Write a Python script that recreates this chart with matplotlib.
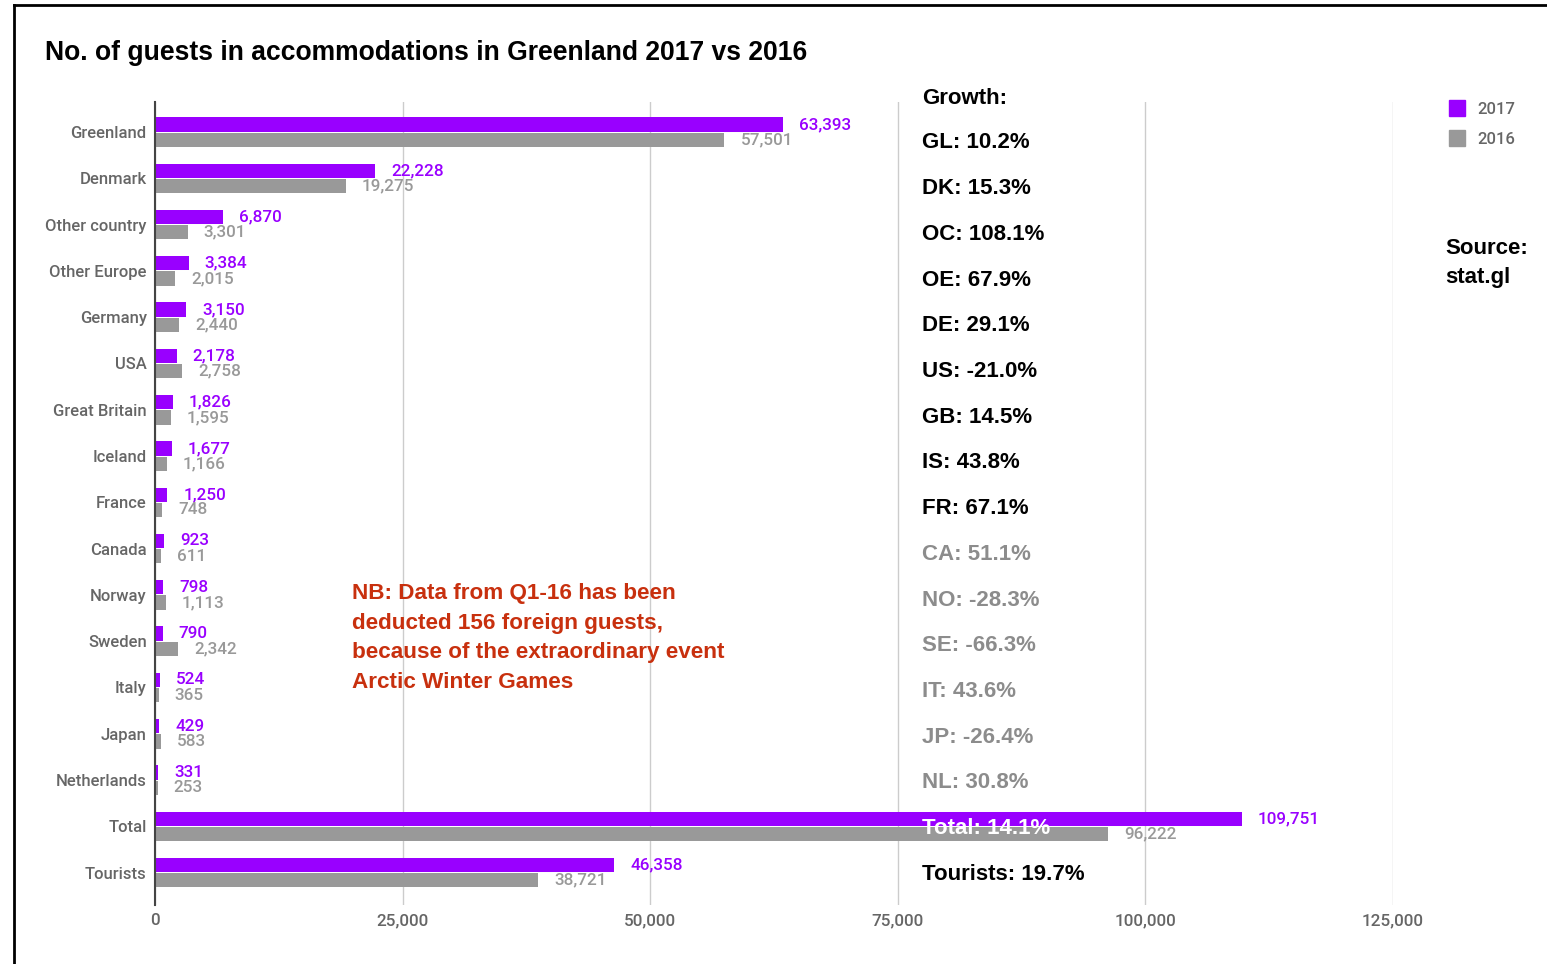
import matplotlib.pyplot as plt
from matplotlib.lines import Line2D

countries = ["Greenland", "Denmark", "Other country", "Other Europe", "Germany", "USA",
             "Great Britain", "Iceland", "France", "Canada", "Norway", "Sweden", "Italy",
             "Japan", "Netherlands", "Total", "Tourists"]
guests_2017 = [63393, 22228, 6870, 3384, 3150, 2178, 1826, 1677, 1250, 923, 798, 790,
               524, 429, 331, 109751, 46358]
guests_2016 = [57501, 19275, 3301, 2015, 2440, 2758, 1595, 1166, 748, 611, 1113, 2342,
               365, 583, 253, 96222, 38721]
growth = ["GL: 10.2%", "DK: 15.3%", "OC: 108.1%", "OE: 67.9%", "DE: 29.1%", "US: -21.0%",
          "GB: 14.5%", "IS: 43.8%", "FR: 67.1%", "CA: 51.1%", "NO: -28.3%", "SE: -66.3%",
          "IT: 43.6%", "JP: -26.4%", "NL: 30.8%", "Total: 14.1%", "Tourists: 19.7%"]
growth_colors = ["#000000"] * 9 + ["#8c8c8c"] * 6 + ["#ffffff", "#000000"]
xticks = [0, 25000, 50000, 75000, 100000, 125000]

PURPLE = "#9900ff"
GREY = "#999999"
W, H = 1547, 964

fig = plt.figure(figsize=(W / 100, H / 100), dpi=100)
ax = fig.add_axes([155 / W, 1 - 905 / H, (1393 - 155) / W, (905 - 102) / H])

y = list(range(len(countries)))
off = 0.165
bh = 0.31
ax.barh([i - off for i in y], guests_2017, height=bh, color=PURPLE, zorder=3)
ax.barh([i + off for i in y], guests_2016, height=bh, color=GREY, zorder=3)

lbl = dict(family="Roboto", fontweight="medium", fontsize=12.3)
for i, (a, b) in enumerate(zip(guests_2017, guests_2016)):
    ax.annotate(f"{a:,}", (a, i - off), xytext=(11.5, 0), textcoords="offset points",
                va="center", ha="left", color=PURPLE, zorder=4, **lbl)
    ax.annotate(f"{b:,}", (b, i + off), xytext=(11.5, 0), textcoords="offset points",
                va="center", ha="left", color=GREY, zorder=4, **lbl)

ax.set_xlim(0, 125000)
ax.set_ylim(len(countries) - 0.3, -0.65)
ax.set_yticks(y)
ax.set_yticklabels(countries, color="#666666", family="Roboto", fontweight="medium", fontsize=12)
ax.set_xticks(xticks)
ax.set_xticklabels([f"{t:,}" for t in xticks], color="#666666", **lbl)
ax.tick_params(length=0, pad=6)
ax.tick_params(axis="x", pad=6)
ax.grid(axis="x", color="#cccccc", linewidth=1, zorder=0)
for s in ["top", "right", "bottom"]:
    ax.spines[s].set_visible(False)
ax.spines["left"].set_color("#444444")
ax.spines["left"].set_linewidth(1.5)
ax.spines["left"].set_zorder(5)

# growth column
gx = 922 / W
bold = dict(family="Liberation Sans", fontweight="bold", fontsize=16)
fig.text(gx, 1 - 98 / H, "Growth:", va="center", ha="left", **bold)
for i, (txt, c) in enumerate(zip(growth, growth_colors)):
    fig.text(gx, 1 - (143 + i * 45.7) / H, txt, color=c, va="center", ha="left",
             zorder=6, **bold)

fig.text(45 / W, 1 - 53 / H, "No. of guests in accommodations in Greenland 2017 vs 2016",
         family="Liberation Sans", fontweight="bold", fontsize=19.1, va="center", ha="left")

note = ("NB: Data from Q1-16 has been\ndeducted 156 foreign guests,\n"
        "because of the extraordinary event\nArctic Winter Games")
fig.text(352 / W, 1 - 638 / H, note, family="Liberation Sans", fontweight="bold",
         fontsize=16.2, color="#c8300e", va="center", ha="left", linespacing=1.54)

fig.text(1445 / W, 1 - 263 / H, "Source:\nstat.gl", va="center", ha="left",
         linespacing=1.55, **bold)

# legend
handles = [Line2D([], [], marker="s", color=PURPLE, linestyle="none", markersize=12),
           Line2D([], [], marker="s", color=GREY, linestyle="none", markersize=12)]
fig.legend(handles, ["2017", "2016"], loc="upper left", bbox_to_anchor=(1429 / W, 1 - 90 / H),
           frameon=False, handletextpad=0.2, labelspacing=0.9, borderpad=0.2,
           prop={"family": "Roboto", "weight": "medium", "size": 12}, labelcolor="#666666")

# frame along the top and left edges
fig.add_artist(Line2D([14 / W, 14 / W], [0, 1 - 5 / H], color="black", linewidth=2))
fig.add_artist(Line2D([14 / W, 1], [1 - 5 / H, 1 - 5 / H], color="black", linewidth=2))

fig.savefig("out.png", dpi=100)
